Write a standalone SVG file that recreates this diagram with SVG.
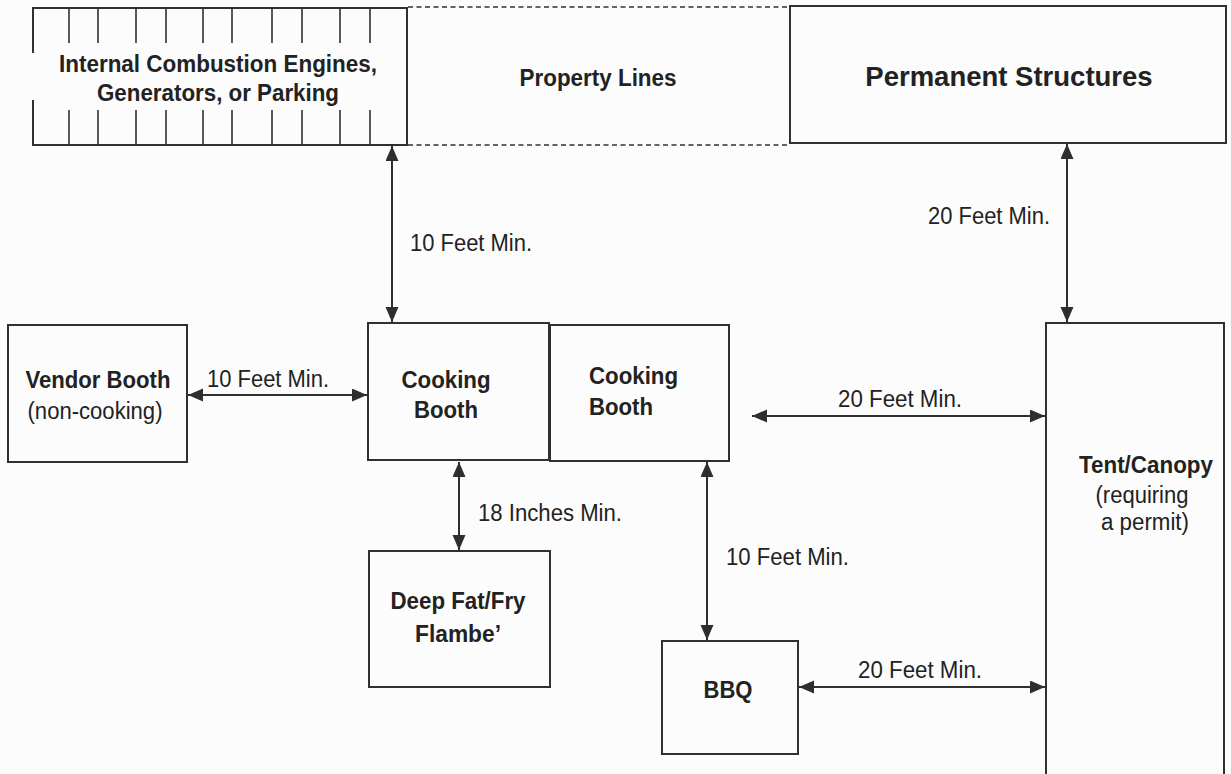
<svg xmlns="http://www.w3.org/2000/svg" width="1231" height="774" viewBox="0 0 1231 774">
<defs>
<marker id="ah" markerUnits="userSpaceOnUse" markerWidth="16" markerHeight="14" refX="15" refY="6.5" orient="auto-start-reverse">
<path d="M0,0 L15,6.5 L0,13 Z" fill="#2e2e2e"/>
</marker>
<style>
.box{fill:none;stroke:#303030;stroke-width:2}
.tick{stroke:#303030;stroke-width:1.6}
.dash{stroke:#303030;stroke-width:1.5;stroke-dasharray:5 3.5}
.conn{stroke:#303030;stroke-width:2;fill:none;marker-start:url(#ah);marker-end:url(#ah)}
.b{font-family:"Liberation Sans",Arial,sans-serif;font-weight:bold;font-size:23px;fill:#222}
.r{font-family:"Liberation Sans",Arial,sans-serif;font-size:23px;fill:#222}
</style>
</defs>
<rect width="1231" height="774" fill="#fcfcfc"/>

<g id="ice">
<line class="box" x1="32" y1="8" x2="408" y2="8"/>
<line class="box" x1="32" y1="145" x2="408" y2="145"/>
<line class="box" x1="33" y1="8" x2="33" y2="53"/>
<line class="box" x1="33" y1="100" x2="33" y2="145"/>
<line class="box" x1="407" y1="8" x2="407" y2="145"/>
<path class="tick" d="M69,8V43M98,8V43M136,8V43M166,8V43M203,8V43M232,8V43M272,8V43M302,8V43M340,8V43M370,8V43M69,110V145M98,110V145M136,110V145M166,110V145M203,110V145M232,110V145M272,110V145M302,110V145M340,110V145M370,110V145"/>
<text class="b" x="218" y="72" text-anchor="middle" textLength="318" lengthAdjust="spacingAndGlyphs">Internal Combustion Engines,</text>
<text class="b" x="218" y="101" text-anchor="middle" textLength="242" lengthAdjust="spacingAndGlyphs">Generators, or Parking</text>
</g>

<g id="property">
<line class="dash" x1="408" y1="7" x2="790" y2="7"/>
<line class="dash" x1="408" y1="145" x2="790" y2="145"/>
<text class="b" x="598" y="86" text-anchor="middle" textLength="157" lengthAdjust="spacingAndGlyphs">Property Lines</text>
</g>

<g id="permanent">
<rect class="box" x="790" y="6" width="436" height="137"/>
<text class="b" x="1009" y="86" text-anchor="middle" style="font-size:27.5px">Permanent Structures</text>
</g>

<g id="vendor">
<rect class="box" x="8" y="325" width="179" height="137"/>
<text class="b" x="98" y="388" text-anchor="middle" textLength="145" lengthAdjust="spacingAndGlyphs">Vendor Booth</text>
<text class="r" x="95" y="419" text-anchor="middle" textLength="135" lengthAdjust="spacingAndGlyphs">(non-cooking)</text>
</g>

<g id="cooking1">
<rect class="box" x="368" y="323" width="181" height="137"/>
<text class="b" x="446" y="388" text-anchor="middle" textLength="89" lengthAdjust="spacingAndGlyphs">Cooking</text>
<text class="b" x="446" y="418" text-anchor="middle" textLength="64" lengthAdjust="spacingAndGlyphs">Booth</text>
</g>

<g id="cooking2">
<rect class="box" x="550" y="325" width="179" height="136"/>
<text class="b" x="589" y="384" textLength="89" lengthAdjust="spacingAndGlyphs">Cooking</text>
<text class="b" x="589" y="415" textLength="64" lengthAdjust="spacingAndGlyphs">Booth</text>
</g>

<g id="deepfat">
<rect class="box" x="369" y="551" width="181" height="136"/>
<text class="b" x="458" y="609" text-anchor="middle" textLength="135" lengthAdjust="spacingAndGlyphs">Deep Fat/Fry</text>
<text class="b" x="458" y="642" text-anchor="middle" textLength="86" lengthAdjust="spacingAndGlyphs">Flambe’</text>
</g>

<g id="bbq">
<rect class="box" x="662" y="641" width="136" height="113"/>
<text class="b" x="728" y="698" text-anchor="middle" textLength="49" lengthAdjust="spacingAndGlyphs">BBQ</text>
</g>

<g id="tent">
<path class="box" d="M1046,776V323H1224V776"/>
<text class="b" x="1146" y="473" text-anchor="middle" textLength="134" lengthAdjust="spacingAndGlyphs">Tent/Canopy</text>
<text class="r" x="1142" y="503" text-anchor="middle" textLength="93" lengthAdjust="spacingAndGlyphs">(requiring</text>
<text class="r" x="1145" y="530" text-anchor="middle" textLength="88" lengthAdjust="spacingAndGlyphs">a permit)</text>
</g>

<g id="connectors">
<line class="conn" x1="392" y1="146" x2="392" y2="322"/>
<line class="conn" x1="1067" y1="144" x2="1067" y2="322"/>
<line class="conn" x1="188" y1="395" x2="367" y2="395"/>
<line class="conn" x1="752" y1="416" x2="1045" y2="416"/>
<line class="conn" x1="459" y1="462" x2="459" y2="550"/>
<line class="conn" x1="707" y1="462" x2="707" y2="640"/>
<line class="conn" x1="799" y1="687" x2="1045" y2="687"/>
<text class="r" x="410" y="251" textLength="122" lengthAdjust="spacingAndGlyphs">10 Feet Min.</text>
<text class="r" x="1050" y="224" text-anchor="end" textLength="122" lengthAdjust="spacingAndGlyphs">20 Feet Min.</text>
<text class="r" x="207" y="387" textLength="122" lengthAdjust="spacingAndGlyphs">10 Feet Min.</text>
<text class="r" x="900" y="407" text-anchor="middle" textLength="124" lengthAdjust="spacingAndGlyphs">20 Feet Min.</text>
<text class="r" x="478" y="521" textLength="144" lengthAdjust="spacingAndGlyphs">18 Inches Min.</text>
<text class="r" x="726" y="565" textLength="123" lengthAdjust="spacingAndGlyphs">10 Feet Min.</text>
<text class="r" x="920" y="678" text-anchor="middle" textLength="124" lengthAdjust="spacingAndGlyphs">20 Feet Min.</text>
</g>
</svg>
